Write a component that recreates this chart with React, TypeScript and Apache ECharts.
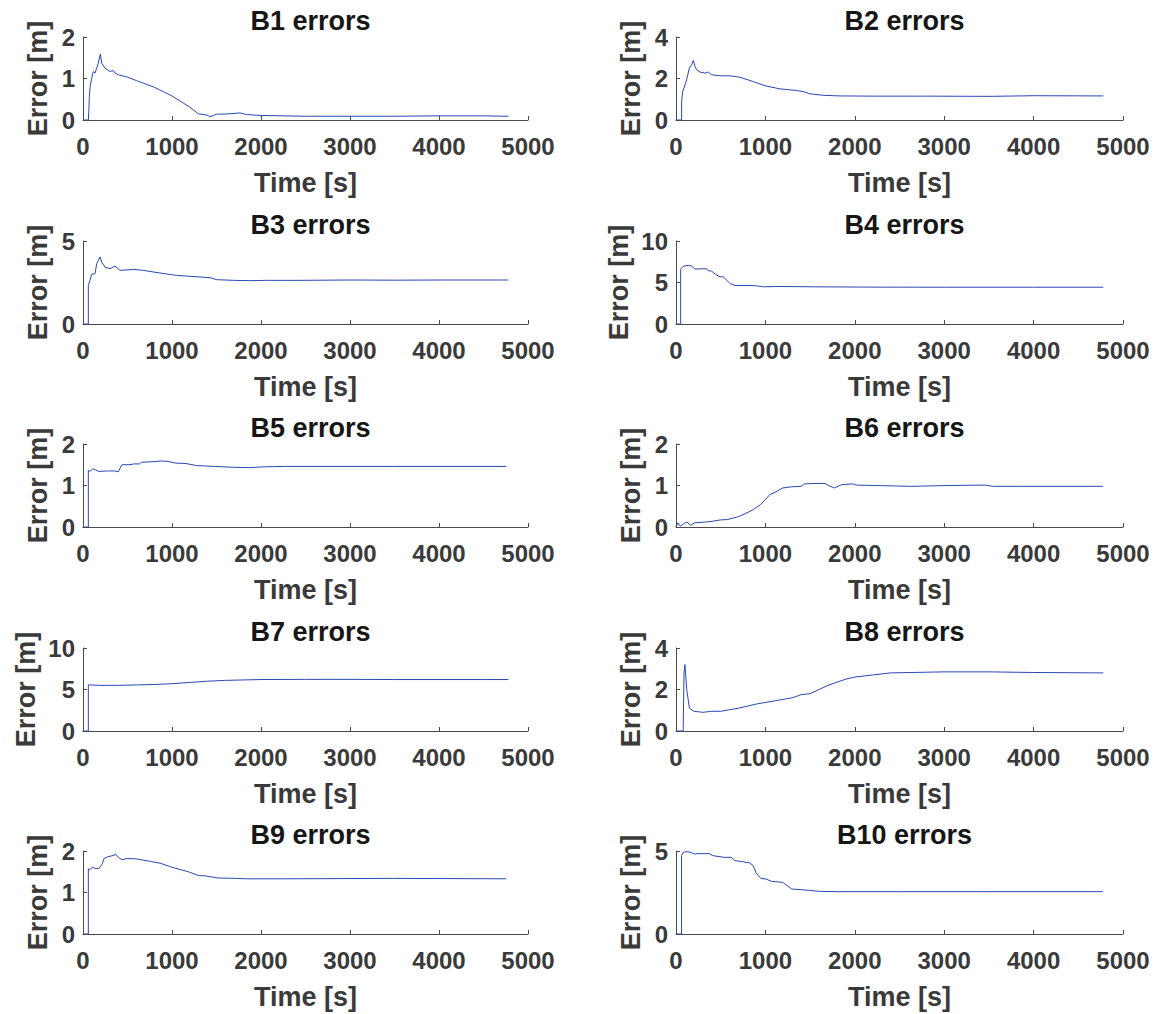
import React, { useEffect, useRef } from "react";
import * as echarts from "echarts";

// ---- Data ----
const titles = ["B1 errors", "B2 errors", "B3 errors", "B4 errors", "B5 errors", "B6 errors", "B7 errors", "B8 errors", "B9 errors", "B10 errors"];
const yMax = [2, 4, 5, 10, 2, 2, 10, 4, 2, 5];
const yStep = [1, 2, 5, 5, 1, 1, 5, 2, 1, 5];
const xTicks = [0, 1000, 2000, 3000, 4000, 5000];

const b1Time = [0, 60, 65, 71, 80, 97, 116, 135, 154, 172, 195, 210, 247, 303, 341, 360, 397, 491, 600, 800, 1000, 1200, 1296, 1390, 1427, 1502, 1614, 1764, 1839, 1989, 2500, 3000, 3500, 4000, 4500, 4780];
const b1Err = [0, 0, 0.2, 0.56, 0.8, 1.0, 1.17, 1.13, 1.25, 1.37, 1.59, 1.37, 1.25, 1.17, 1.19, 1.13, 1.09, 1.04, 0.95, 0.79, 0.58, 0.31, 0.15, 0.12, 0.08, 0.14, 0.145, 0.17, 0.13, 0.11, 0.09, 0.09, 0.09, 0.1, 0.1, 0.09];

const b2Time = [0, 63, 63, 75, 101, 119, 149, 175, 194, 213, 231, 268, 324, 362, 399, 492, 604, 716, 865, 996, 1163, 1350, 1424, 1499, 1648, 1834, 2200, 2800, 3500, 4000, 4780];
const b2Err = [0, 0, 0.89, 1.37, 1.69, 1.94, 2.5, 2.66, 2.87, 2.58, 2.42, 2.31, 2.26, 2.31, 2.18, 2.13, 2.13, 2.06, 1.85, 1.65, 1.5, 1.42, 1.37, 1.26, 1.19, 1.16, 1.15, 1.15, 1.14, 1.17, 1.16];

const b3Time = [0, 60, 60, 79, 97, 135, 154, 191, 210, 247, 303, 360, 416, 566, 678, 865, 1052, 1315, 1427, 1502, 1689, 1876, 2064, 2438, 3000, 3500, 4000, 4780];
const b3Err = [0, 0, 2.33, 2.63, 3.0, 3.03, 3.63, 4.04, 3.73, 3.43, 3.33, 3.49, 3.23, 3.29, 3.23, 3.07, 2.93, 2.83, 2.79, 2.67, 2.63, 2.61, 2.63, 2.63, 2.65, 2.64, 2.65, 2.65];

const b4Time = [0, 52, 52, 63, 89, 138, 175, 213, 268, 343, 362, 399, 455, 492, 529, 567, 604, 660, 828, 902, 977, 1163, 1536, 2282, 3000, 4000, 4780];
const b4Err = [0, 0, 6.57, 6.77, 6.98, 7.06, 6.98, 6.61, 6.65, 6.65, 6.41, 6.37, 5.89, 5.69, 5.69, 5.28, 4.88, 4.64, 4.64, 4.6, 4.48, 4.52, 4.48, 4.44, 4.43, 4.43, 4.43];

const b5Time = [0, 60, 60, 76, 108, 136, 176, 276, 356, 396, 436, 516, 576, 636, 656, 756, 876, 956, 1036, 1156, 1276, 1476, 1676, 1876, 2036, 2276, 3476, 4756];
const b5Err = [0, 0, 1.37, 1.34, 1.4, 1.38, 1.34, 1.35, 1.35, 1.33, 1.5, 1.5, 1.52, 1.52, 1.56, 1.57, 1.59, 1.58, 1.54, 1.53, 1.48, 1.46, 1.44, 1.43, 1.45, 1.46, 1.46, 1.46];

const b6Time = [0, 21, 49, 103, 123, 165, 206, 329, 412, 494, 576, 700, 782, 864, 947, 1000, 1049, 1111, 1193, 1296, 1399, 1440, 1564, 1667, 1708, 1770, 1852, 1975, 2016, 2222, 2634, 3045, 3457, 3539, 3868, 4774];
const b6Err = [0, 0.1, 0.02, 0.1, 0.12, 0.04, 0.1, 0.12, 0.14, 0.17, 0.18, 0.25, 0.33, 0.42, 0.54, 0.66, 0.78, 0.84, 0.94, 0.97, 0.98, 1.04, 1.05, 1.05, 1.0, 0.94, 1.02, 1.04, 1.01, 1.0, 0.98, 1.0, 1.01, 0.98, 0.98, 0.98];

const b7Time = [0, 60, 60, 200, 400, 600, 800, 1000, 1200, 1400, 1600, 1800, 2000, 2500, 3000, 3500, 4000, 4500, 4780];
const b7Err = [0, 0, 5.55, 5.5, 5.5, 5.55, 5.6, 5.7, 5.85, 6.0, 6.1, 6.15, 6.2, 6.22, 6.22, 6.2, 6.2, 6.2, 6.2];

const b8Time = [0, 80, 90, 100, 120, 150, 200, 300, 400, 500, 700, 900, 1100, 1300, 1400, 1500, 1700, 1900, 2000, 2200, 2400, 3000, 3500, 4000, 4780];
const b8Err = [0, 0, 2.8, 3.2, 2.0, 1.1, 0.95, 0.9, 0.95, 0.95, 1.1, 1.3, 1.45, 1.6, 1.75, 1.8, 2.2, 2.5, 2.6, 2.7, 2.8, 2.85, 2.85, 2.82, 2.8];

const b9Time = [0, 60, 60, 76, 108, 136, 176, 216, 236, 276, 356, 364, 396, 436, 496, 596, 756, 876, 996, 1116, 1196, 1296, 1376, 1516, 1716, 1836, 2276, 3476, 4756];
const b9Err = [0, 0, 1.57, 1.55, 1.61, 1.58, 1.57, 1.69, 1.82, 1.86, 1.9, 1.93, 1.85, 1.79, 1.82, 1.81, 1.75, 1.7, 1.61, 1.54, 1.49, 1.41, 1.4, 1.35, 1.34, 1.33, 1.33, 1.34, 1.33];

const b10Time = [0, 62, 62, 82, 123, 165, 206, 247, 370, 412, 535, 617, 658, 741, 823, 864, 897, 947, 1008, 1070, 1193, 1296, 1399, 1605, 1811, 2500, 3500, 4774];
const b10Err = [0, 0, 4.72, 4.92, 4.96, 4.92, 4.82, 4.84, 4.84, 4.72, 4.62, 4.62, 4.42, 4.36, 4.28, 4.12, 3.67, 3.35, 3.31, 3.17, 3.11, 2.71, 2.67, 2.57, 2.55, 2.55, 2.55, 2.55];

const seriesTimes = [b1Time, b2Time, b3Time, b4Time, b5Time, b6Time, b7Time, b8Time, b9Time, b10Time];
const seriesErrs = [b1Err, b2Err, b3Err, b4Err, b5Err, b6Err, b7Err, b8Err, b9Err, b10Err];

// ---- Layout ----
const colLeft = [83, 676];
const colWidth = [445, 447];
const rowTop = [37, 241, 444, 648, 851];
const plotH = 83;

const FONT = "Liberation Sans, Arial, Helvetica, sans-serif";
const TXT = "#3a3a3a";
const AXIS = "#4a4a4a";
const LINE = "#2a48b2";

export default function App() {
  const ref = useRef<HTMLDivElement>(null);
  useEffect(() => {
    if (!ref.current) return;
    const chart = echarts.init(ref.current, undefined, { renderer: "svg" });
    const grid: any[] = [];
    const xAxis: any[] = [];
    const yAxis: any[] = [];
    const series: any[] = [];
    const title: any[] = [];
    for (let i = 0; i < 10; i++) {
      const col = i % 2;
      const row = Math.floor(i / 2);
      const left = colLeft[col];
      const width = colWidth[col];
      const top = rowTop[row];
      grid.push({ left, top, width, height: plotH, containLabel: false });
      title.push({
        text: titles[i],
        left: left + width / 2,
        top: top - 35,
        textAlign: "center",
        textStyle: { fontFamily: FONT, fontWeight: "bold", fontSize: 27, color: "#161616" },
      });
      xAxis.push({
        type: "value",
        gridIndex: i,
        min: xTicks[0],
        max: xTicks[xTicks.length - 1],
        interval: 1000,
        name: "Time [s]",
        nameLocation: "middle",
        nameGap: 49,
        nameTextStyle: { fontFamily: FONT, fontWeight: "bold", fontSize: 27, color: TXT },
        axisLine: { show: true, onZero: false, lineStyle: { color: AXIS, width: 1 } },
        axisTick: { show: true, inside: true, length: 4, lineStyle: { color: AXIS } },
        axisLabel: {
          fontFamily: FONT, fontWeight: "bold", fontSize: 24, color: TXT, margin: 14,
          formatter: (v: number) => String(v),
        },
        splitLine: { show: false },
      });
      const wide = yMax[i] >= 10;
      yAxis.push({
        type: "value",
        gridIndex: i,
        min: 0,
        max: yMax[i],
        interval: yStep[i],
        name: "Error [m]",
        nameLocation: "middle",
        nameGap: wide ? 44 : 32,
        nameTextStyle: { fontFamily: FONT, fontWeight: "bold", fontSize: 27, color: TXT },
        axisLine: { show: true, onZero: false, lineStyle: { color: AXIS, width: 1 } },
        axisTick: { show: true, inside: true, length: 4, lineStyle: { color: AXIS } },
        axisLabel: { fontFamily: FONT, fontWeight: "bold", fontSize: 24, color: TXT, margin: 8 },
        splitLine: { show: false },
      });
      const data = seriesTimes[i].map((t, k) => [t, seriesErrs[i][k]]);
      series.push({
        type: "line",
        xAxisIndex: i,
        yAxisIndex: i,
        data,
        showSymbol: false,
        symbol: "none",
        lineStyle: { color: LINE, width: 1 },
        silent: true,
      });
    }
    chart.setOption({
      animation: false,
      backgroundColor: "#ffffff",
      title,
      grid,
      xAxis,
      yAxis,
      series,
    });
    return () => chart.dispose();
  }, []);
  return (
    <div
      ref={ref}
      style={{ position: "fixed", left: 0, top: 0, width: 1157, height: 1014, background: "#fff" }}
    />
  );
}
